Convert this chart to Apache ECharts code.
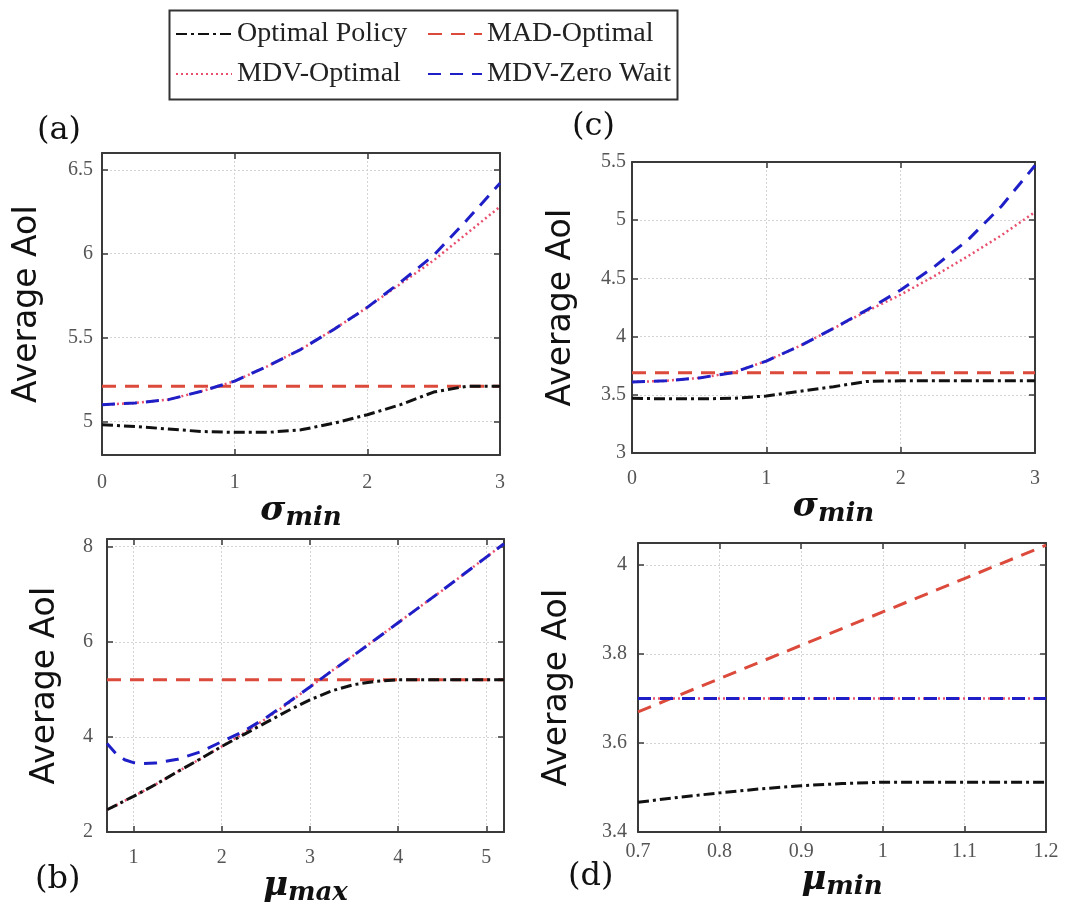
<!DOCTYPE html>
<html>
<head>
<meta charset="utf-8">
<script src="https://cdn.jsdelivr.net/npm/echarts@6/dist/echarts.min.js"></script>
<style>
  html, body { margin: 0; padding: 0; background: #ffffff; }
  #chart { width: 1071px; height: 907px; }
</style>
</head>
<body>
<div id="chart"></div>
<script>
// ---- Panel (a): average AoI versus sigma_min ----
const aX         = [0, 0.25, 0.5, 0.75, 1, 1.25, 1.5, 1.75, 2, 2.25, 2.5, 2.75, 3];
const aOptimal   = [4.98, 4.97, 4.955, 4.94, 4.935, 4.935, 4.95, 4.99, 5.04, 5.10, 5.175, 5.21, 5.21];
const aMAD       = [5.21, 5.21, 5.21, 5.21, 5.21, 5.21, 5.21, 5.21, 5.21, 5.21, 5.21, 5.21, 5.21];
const aMDVOpt    = [5.10, 5.11, 5.13, 5.18, 5.24, 5.33, 5.43, 5.55, 5.68, 5.82, 5.96, 6.12, 6.28];
const aZeroWait  = [5.10, 5.11, 5.13, 5.18, 5.24, 5.33, 5.43, 5.55, 5.68, 5.83, 5.99, 6.20, 6.42];
const aXTicks    = [0, 1, 2, 3];
const aYTicks    = [5, 5.5, 6, 6.5];

// ---- Panel (c): average AoI versus sigma_min ----
const cX         = [0, 0.25, 0.5, 0.75, 1, 1.25, 1.5, 1.75, 2, 2.25, 2.5, 2.75, 3];
const cOptimal   = [3.47, 3.465, 3.465, 3.47, 3.49, 3.53, 3.57, 3.615, 3.62, 3.62, 3.62, 3.62, 3.62];
const cMAD       = [3.69, 3.69, 3.69, 3.69, 3.69, 3.69, 3.69, 3.69, 3.69, 3.69, 3.69, 3.69, 3.69];
const cMDVOpt    = [3.61, 3.62, 3.645, 3.69, 3.79, 3.92, 4.07, 4.22, 4.36, 4.52, 4.69, 4.87, 5.07];
const cZeroWait  = [3.61, 3.62, 3.645, 3.69, 3.79, 3.92, 4.07, 4.23, 4.40, 4.60, 4.83, 5.12, 5.47];
const cXTicks    = [0, 1, 2, 3];
const cYTicks    = [3, 3.5, 4, 4.5, 5, 5.5];

// ---- Panel (b): average AoI versus mu_max ----
const bX         = [0.7, 0.8, 0.9, 1, 1.1, 1.25, 1.5, 1.75, 2, 2.25, 2.5, 2.75, 3, 3.25, 3.5, 3.75, 4, 4.5, 5, 5.2];
const bOptimal   = [2.47, 2.56, 2.66, 2.75, 2.85, 3.00, 3.27, 3.53, 3.80, 4.05, 4.30, 4.55, 4.78, 4.97, 5.10, 5.17, 5.20, 5.20, 5.20, 5.20];
const bMAD       = [5.2, 5.2, 5.2, 5.2, 5.2, 5.2, 5.2, 5.2, 5.2, 5.2, 5.2, 5.2, 5.2, 5.2, 5.2, 5.2, 5.2, 5.2, 5.2, 5.2];
const bMDVOpt    = [2.47, 2.56, 2.66, 2.75, 2.85, 3.00, 3.27, 3.53, 3.80, 4.08, 4.38, 4.70, 5.05, 5.39, 5.72, 6.06, 6.40, 7.08, 7.78, 8.06];
const bZeroWait  = [3.86, 3.65, 3.52, 3.46, 3.44, 3.45, 3.53, 3.68, 3.90, 4.12, 4.40, 4.72, 5.05, 5.39, 5.72, 6.06, 6.40, 7.08, 7.78, 8.06];
const bXTicks    = [1, 2, 3, 4, 5];
const bYTicks    = [2, 4, 6, 8];

// ---- Panel (d): average AoI versus mu_min ----
const dX         = [0.7, 0.75, 0.8, 0.85, 0.9, 0.95, 1.0, 1.1, 1.2];
const dOptimal   = [3.467, 3.478, 3.488, 3.497, 3.504, 3.509, 3.512, 3.512, 3.512];
const dMAD       = [3.67, 3.7075, 3.745, 3.7825, 3.82, 3.8575, 3.895, 3.97, 4.045];
const dMDVOpt    = [3.70, 3.70, 3.70, 3.70, 3.70, 3.70, 3.70, 3.70, 3.70];
const dZeroWait  = [3.70, 3.70, 3.70, 3.70, 3.70, 3.70, 3.70, 3.70, 3.70];
const dXTicks    = [0.7, 0.8, 0.9, 1, 1.1, 1.2];
const dYTicks    = [3.4, 3.6, 3.8, 4];

const NAMES = ['Optimal Policy', 'MAD-Optimal', 'MDV-Optimal', 'MDV-Zero Wait'];

const FRAME = '#3a3a3a';
const TICK_FONT = 'Liberation Serif';

// line appearance per policy
const STYLES = {
  'Optimal Policy': { color: '#111111', width: 3, type: [11, 4, 3, 4] },
  'MAD-Optimal':    { color: '#dc4a3c', width: 3, type: [14, 9] },
  'MDV-Optimal':    { color: '#e8506e', width: 2.5, type: [2, 3] },
  'MDV-Zero Wait':  { color: '#1f1fc8', width: 3, type: [13, 9] }
};

const mathName = (sym, sub) => ({
  name: '{s|' + sym + '}{m|' + sub + '}',
  nameTextStyle: {
    rich: {
      s: { fontFamily: 'DejaVu Serif', fontStyle: 'italic', fontWeight: 'bold', fontSize: 34, lineHeight: 40, color: '#111', verticalAlign: 'middle' },
      m: { fontFamily: 'DejaVu Serif', fontStyle: 'italic', fontWeight: 'bold', fontSize: 26, lineHeight: 26, color: '#111', verticalAlign: 'bottom' }
    }
  }
});

// grid rectangles in pixels: [left, top, right edge, bottom edge]
const PANELS = [
  { rect: [102, 153, 500, 455], x: [0, 3], y: [4.8, 6.6], xt: aXTicks, yt: aYTicks, sym: 'σ', sub: 'min',
    yGap: 58, xGap: 21, xm: 18, ym: 9, xs: aX, series: [aOptimal, aMAD, aMDVOpt, aZeroWait] },
  { rect: [632, 162, 1035, 453], x: [0, 3], y: [3, 5.5], xt: cXTicks, yt: cYTicks, sym: 'σ', sub: 'min',
    yGap: 54, xGap: 24, xm: 16, ym: 6, xs: cX, series: [cOptimal, cMAD, cMDVOpt, cZeroWait] },
  { rect: [107, 539, 504, 837], x: [0.7, 5.2], y: [2, 8.16], xt: bXTicks, yt: bYTicks, sym: 'μ', sub: 'max',
    yGap: 45, xGap: 26, xm: 16, ym: 14, xs: bX, series: [bOptimal, bMAD, bMDVOpt, bZeroWait] },
  { rect: [638, 543, 1046, 832], x: [0.7, 1.2], y: [3.4, 4.05], xt: dXTicks, yt: dYTicks, sym: 'μ', sub: 'min',
    yGap: 64, xGap: 24, xm: 10, ym: 11, xs: dX, series: [dOptimal, dMAD, dMDVOpt, dZeroWait] }
];

const W = 1071, H = 907;
const grid = [], xAxis = [], yAxis = [], series = [];

PANELS.forEach((p, gi) => {
  const [l, t, r, b] = p.rect;
  grid.push({ left: l, top: t, width: r - l, height: b - t, containLabel: false });

  const tickStyle = { color: FRAME, width: 1.5 };
  const lineStyle = { color: FRAME, width: 2 };
  const split = { show: true, lineStyle: { color: '#d4d4d4', width: 1, type: [2, 2] } };

  xAxis.push(Object.assign({
    type: 'value', gridIndex: gi, position: 'bottom', min: p.x[0], max: p.x[1],
    axisLine: { show: true, onZero: false, lineStyle },
    axisTick: { show: true, inside: true, length: 6, customValues: p.xt, lineStyle: tickStyle },
    axisLabel: { customValues: p.xt, color: '#555', fontFamily: TICK_FONT, fontSize: 20, margin: p.xm },
    splitLine: split,
    nameLocation: 'middle', nameGap: p.xGap
  }, mathName(p.sym, p.sub)));
  xAxis.push({
    type: 'value', gridIndex: gi, position: 'top', min: p.x[0], max: p.x[1],
    axisLine: { show: true, onZero: false, lineStyle },
    axisTick: { show: true, inside: true, length: 6, customValues: p.xt, lineStyle: tickStyle },
    axisLabel: { show: false }, splitLine: { show: false }
  });

  yAxis.push({
    type: 'value', gridIndex: gi, position: 'left', min: p.y[0], max: p.y[1],
    axisLine: { show: true, onZero: false, lineStyle },
    axisTick: { show: true, inside: true, length: 6, customValues: p.yt, lineStyle: tickStyle },
    axisLabel: { customValues: p.yt, color: '#555', fontFamily: TICK_FONT, fontSize: 20, margin: p.ym },
    splitLine: split,
    name: 'Average AoI', nameLocation: 'middle', nameGap: p.yGap,
    nameTextStyle: { fontFamily: 'DejaVu Sans', fontSize: 33, color: '#111' }
  });
  yAxis.push({
    type: 'value', gridIndex: gi, position: 'right', min: p.y[0], max: p.y[1],
    axisLine: { show: true, onZero: false, lineStyle },
    axisTick: { show: true, inside: true, length: 6, customValues: p.yt, lineStyle: tickStyle },
    axisLabel: { show: false }, splitLine: { show: false }
  });

  // drawing order: MAD, MDV-Optimal, MDV-Zero Wait, then the optimal policy on top
  [1, 2, 3, 0].forEach((k) => {
    const name = NAMES[k];
    const st = STYLES[name];
    series.push({
      type: 'line', name, xAxisIndex: 2 * gi, yAxisIndex: 2 * gi,
      data: p.xs.map((x, i) => [x, p.series[k][i]]),
      symbol: 'none', smooth: false,
      lineStyle: { color: st.color, width: st.width, type: st.type },
      itemStyle: { color: st.color },
      emphasis: { disabled: true }, silent: true, animation: false
    });
  });
});

const legendText = { fontFamily: 'Liberation Serif', fontSize: 28, color: '#222', lineHeight: 30 };
const legendBase = {
  orient: 'vertical', top: 14, itemHeight: 14, itemGap: 10, selectedMode: false,
  textStyle: legendText, itemStyle: { opacity: 0, borderWidth: 0 }
};

const option = {
  backgroundColor: '#ffffff',
  animation: false,
  grid, xAxis, yAxis, series,
  legend: [
    Object.assign({ left: 170, itemWidth: 56, data: ['Optimal Policy', 'MDV-Optimal'] }, legendBase),
    Object.assign({ left: 422, itemWidth: 54, data: ['MAD-Optimal', 'MDV-Zero Wait'] }, legendBase)
  ],
  graphic: [
    { type: 'rect', left: 167, top: 8, shape: { width: 508, height: 89 },
      style: { fill: 'none', stroke: '#333', lineWidth: 2 }, silent: true },
    { type: 'text', left: 37, top: 115, style: { text: '(a)', font: '32px "DejaVu Serif"', fill: '#111' } },
    { type: 'text', left: 572, top: 111, style: { text: '(c)', font: '32px "DejaVu Serif"', fill: '#111' } },
    { type: 'text', left: 35, top: 864, style: { text: '(b)', font: '32px "DejaVu Serif"', fill: '#111' } },
    { type: 'text', left: 568, top: 861, style: { text: '(d)', font: '32px "DejaVu Serif"', fill: '#111' } }
  ]
};

const chart = echarts.init(document.getElementById('chart'), null, { renderer: 'canvas', width: W, height: H });
chart.setOption(option);
</script>
</body>
</html>
